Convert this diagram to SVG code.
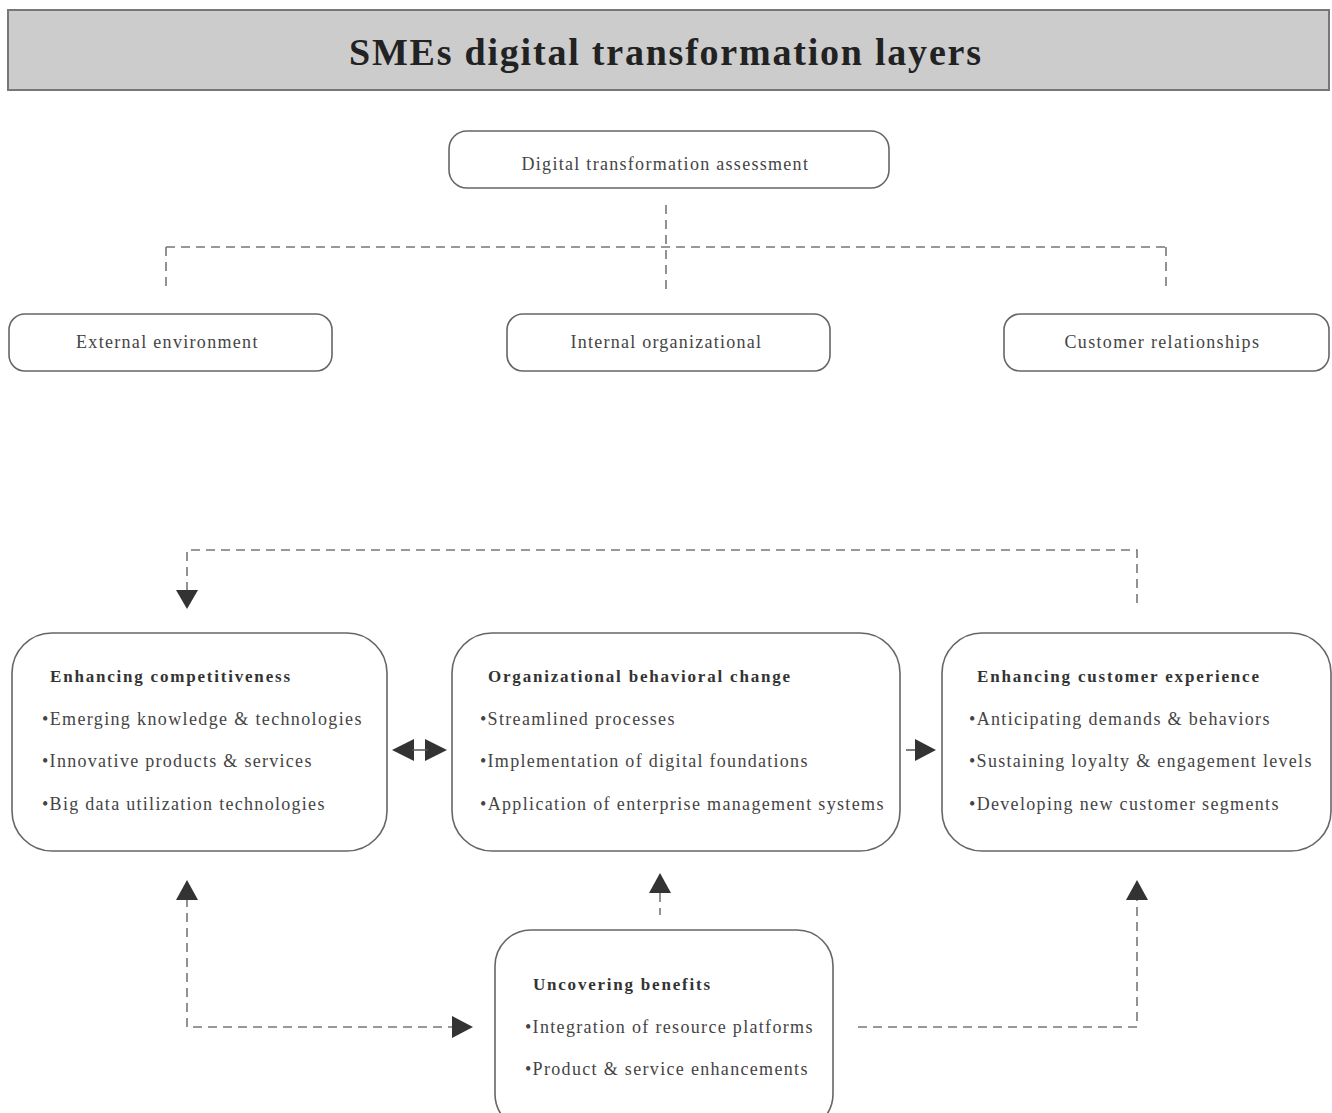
<svg xmlns="http://www.w3.org/2000/svg" width="1332" height="1113" viewBox="0 0 1332 1113">
<defs>
<style>
.box{fill:#fff;stroke:#666;stroke-width:1.6}
.t{font-family:"Liberation Serif","Times New Roman",serif;font-size:18px;fill:#444;letter-spacing:0.6px}
.h{font-family:"Liberation Serif","Times New Roman",serif;font-size:17px;font-weight:bold;fill:#333;letter-spacing:1px}
.c{text-anchor:middle}
.d{fill:none;stroke:#777;stroke-width:1.6;stroke-dasharray:9 6}
.a{fill:#333;stroke:none}
</style>
</defs>
<rect width="1332" height="1113" fill="#fff"/>
<g id="title">
<rect x="8" y="10" width="1321" height="80" fill="#cccccc" stroke="#777" stroke-width="2"/>
<text x="665" y="65" class="c" font-family="'Liberation Serif','Times New Roman',serif" font-size="38" font-weight="bold" fill="#222" textLength="632" lengthAdjust="spacing">SMEs digital transformation layers</text>
</g>
<g id="connectors">
<path class="d" d="M666 205V290M166 247H1166M166 247V290M1166 247V290"/>
<path class="d" d="M1137 603V550H187V592"/>
<polygon class="a" points="176,590 198,590 187,609"/>
<polygon class="a" points="392,750 414,739 414,761"/>
<polygon class="a" points="447,750 425,739 425,761"/>
<line x1="412" y1="750" x2="428" y2="750" stroke="#555" stroke-width="1.5"/>
<line x1="906" y1="750" x2="918" y2="750" stroke="#555" stroke-width="1.5"/>
<polygon class="a" points="936,750 915,739 915,761"/>
<path class="d" d="M187 898V1027H452"/>
<polygon class="a" points="187,880 176,900 198,900"/>
<polygon class="a" points="473,1027 452,1016 452,1038"/>
<path class="d" d="M660 893V915"/>
<polygon class="a" points="660,873 649,893 671,893"/>
<path class="d" d="M858 1027H1137V898"/>
<polygon class="a" points="1137,880 1126,900 1148,900"/>
</g>
<g id="assessment">
<rect class="box" x="449" y="131" width="440" height="57" rx="18"/>
<text class="t c" x="665" y="170" textLength="287" lengthAdjust="spacing">Digital transformation assessment</text>
</g>
<g id="external">
<rect class="box" x="9" y="314" width="323" height="57" rx="16"/>
<text class="t c" x="167" y="348" textLength="182" lengthAdjust="spacing">External environment</text>
</g>
<g id="internal">
<rect class="box" x="507" y="314" width="323" height="57" rx="16"/>
<text class="t c" x="666" y="348" textLength="191" lengthAdjust="spacing">Internal organizational</text>
</g>
<g id="customer">
<rect class="box" x="1004" y="314" width="325" height="57" rx="16"/>
<text class="t c" x="1162" y="348" textLength="195" lengthAdjust="spacing">Customer relationships</text>
</g>
<g id="competitiveness">
<rect class="box" x="12" y="633" width="375" height="218" rx="40"/>
<text class="h" x="50" y="682" textLength="241" lengthAdjust="spacing">Enhancing competitiveness</text>
<text class="t" x="42" y="725" textLength="320" lengthAdjust="spacing">•Emerging knowledge &amp; technologies</text>
<text class="t" x="42" y="767" textLength="270" lengthAdjust="spacing">•Innovative products &amp; services</text>
<text class="t" x="42" y="810" textLength="283" lengthAdjust="spacing">•Big data utilization technologies</text>
</g>
<g id="behavioral">
<rect class="box" x="452" y="633" width="448" height="218" rx="40"/>
<text class="h" x="488" y="682" textLength="303" lengthAdjust="spacing">Organizational behavioral change</text>
<text class="t" x="480" y="725" textLength="195" lengthAdjust="spacing">•Streamlined processes</text>
<text class="t" x="480" y="767" textLength="328" lengthAdjust="spacing">•Implementation of digital foundations</text>
<text class="t" x="480" y="810" textLength="404" lengthAdjust="spacing">•Application of enterprise management systems</text>
</g>
<g id="experience">
<rect class="box" x="942" y="633" width="389" height="218" rx="40"/>
<text class="h" x="977" y="682" textLength="283" lengthAdjust="spacing">Enhancing customer experience</text>
<text class="t" x="969" y="725" textLength="301" lengthAdjust="spacing">•Anticipating demands &amp; behaviors</text>
<text class="t" x="969" y="767" textLength="343" lengthAdjust="spacing">•Sustaining loyalty &amp; engagement levels</text>
<text class="t" x="969" y="810" textLength="310" lengthAdjust="spacing">•Developing new customer segments</text>
</g>
<g id="benefits">
<rect class="box" x="495" y="930" width="338" height="200" rx="36"/>
<text class="h" x="533" y="990" textLength="178" lengthAdjust="spacing">Uncovering benefits</text>
<text class="t" x="525" y="1033" textLength="288" lengthAdjust="spacing">•Integration of resource platforms</text>
<text class="t" x="525" y="1075" textLength="283" lengthAdjust="spacing">•Product &amp; service enhancements</text>
</g>
</svg>
